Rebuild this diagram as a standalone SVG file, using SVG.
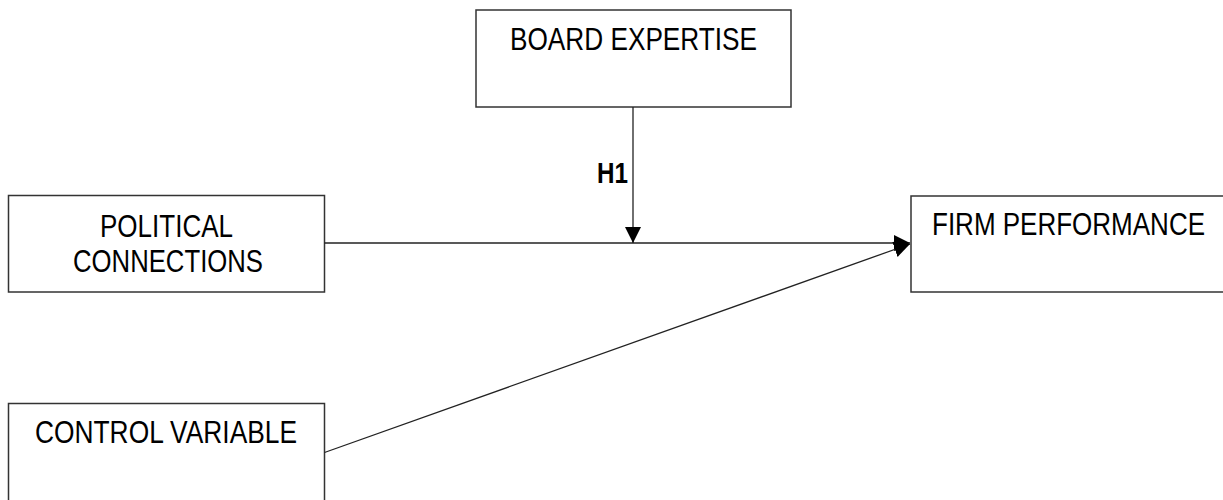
<svg xmlns="http://www.w3.org/2000/svg" width="1223" height="500" viewBox="0 0 1223 500">
  <style>
    .box { fill: #ffffff; stroke: #333333; stroke-width: 1.5; }
    /* narrow lettering: 25px wide glyphs stretched to ~31px tall */
    .label { font-family: "Liberation Sans", Arial, sans-serif; font-size: 25px; fill: #000000; }
    .conn { stroke: #222222; stroke-width: 1.3; fill: none; }
    .tag { font-family: "Liberation Sans", Arial, sans-serif; font-size: 24px; font-weight: bold; fill: #000000; }
  </style>
  <defs>
    <marker id="arrow" viewBox="0 0 16 16" refX="16" refY="8" markerWidth="16" markerHeight="16" markerUnits="userSpaceOnUse" orient="auto">
      <path d="M0,0 L16,8 L0,16 Z" fill="#000000"/>
    </marker>
  </defs>
  <rect width="1223" height="500" fill="#ffffff"/>

  <g id="board-expertise">
    <rect class="box" x="476" y="10" width="315" height="97"/>
    <text class="label" transform="translate(510,50) scale(1,1.24)" textLength="247" lengthAdjust="spacingAndGlyphs">BOARD EXPERTISE</text>
  </g>

  <g id="political-connections">
    <rect class="box" x="8.5" y="195.5" width="316" height="96.5"/>
    <text class="label" transform="translate(100,237) scale(1,1.24)" textLength="133" lengthAdjust="spacingAndGlyphs">POLITICAL</text>
    <text class="label" transform="translate(73,272) scale(1,1.24)" textLength="190" lengthAdjust="spacingAndGlyphs">CONNECTIONS</text>
  </g>

  <g id="firm-performance">
    <!-- box runs off the right edge of the canvas -->
    <path class="box" d="M1223,196 H911 V292 H1223"/>
    <text class="label" transform="translate(932,235) scale(1,1.24)" textLength="273" lengthAdjust="spacingAndGlyphs">FIRM PERFORMANCE</text>
  </g>

  <g id="control-variable">
    <!-- box runs off the bottom edge of the canvas -->
    <path class="box" d="M8.5,500 V403.5 H324.5 V500"/>
    <text class="label" transform="translate(35,443) scale(1,1.24)" textLength="262" lengthAdjust="spacingAndGlyphs">CONTROL VARIABLE</text>
  </g>

  <g id="connectors">
    <line class="conn" x1="324.5" y1="243" x2="910" y2="243" marker-end="url(#arrow)"/>
    <line class="conn" x1="324.5" y1="452.5" x2="910" y2="244" marker-end="url(#arrow)"/>
    <line class="conn" x1="633" y1="107" x2="633" y2="243" marker-end="url(#arrow)"/>
    <text class="tag" transform="translate(597,183) scale(1,1.24)" textLength="31" lengthAdjust="spacingAndGlyphs">H1</text>
  </g>
</svg>
